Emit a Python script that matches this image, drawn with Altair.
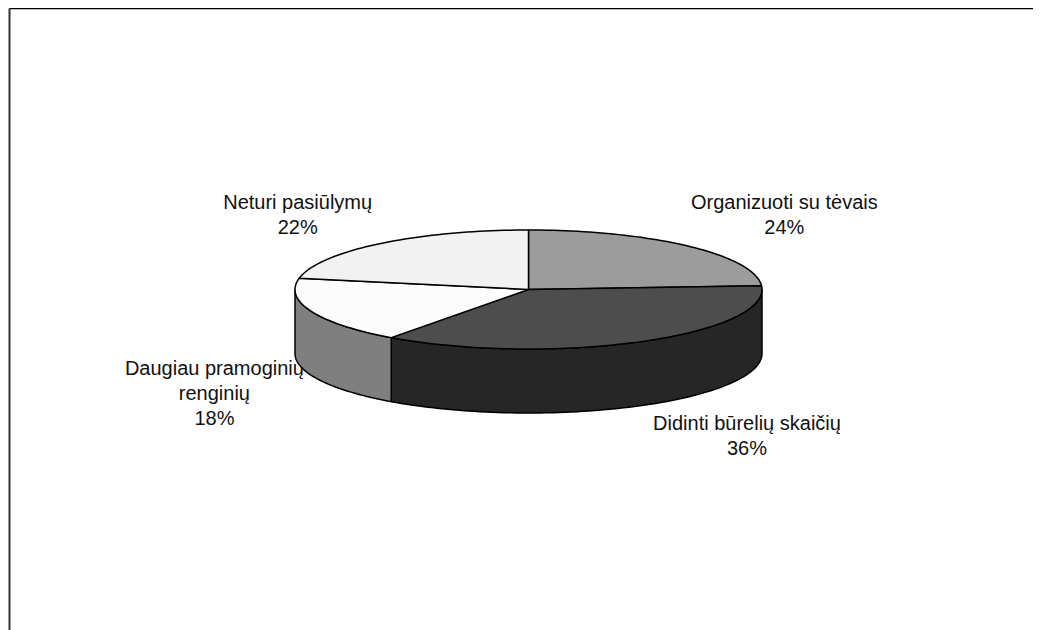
import math
import altair as alt
import pandas as pd

labels = ["Organizuoti su tėvais\n24%", "Didinti būrelių skaičių\n36%",
          "Daugiau pramoginių\nrenginių\n18%", "Neturi pasiūlymų\n22%"]
shares = [24, 36, 18, 22]
top_colors = ["#9c9c9c", "#4d4d4d", "#fcfcfc", "#f2f2f2"]
side_colors = ["#6e6e6e", "#262626", "#7f7f7f", "#a8a8a8"]
label_offsets = [(96, -43), (106, 82), (-97, 58), (-82, -41)]

W, H = 1024, 622
CX, CY, RX, RY, DEPTH = 519.5, 281.5, 233.5, 59.5, 64.0
depth_u = DEPTH / RY

xs = alt.Scale(domain=[-CX / RX, (W - CX) / RX], nice=False, zero=False)
ys = alt.Scale(domain=[-(H - CY) / RY, CY / RY], nice=False, zero=False)
x_axis = alt.Axis(orient="top", domain=True, domainColor="#000000", domainWidth=1.3,
                  ticks=False, labels=False, grid=False, title=None)
y_axis = alt.Axis(orient="left", domain=True, domainColor="#333333", domainWidth=2,
                  ticks=False, labels=False, grid=False, title=None)


def rim(a, drop=0.0):
    r = math.radians(a)
    return math.sin(r), math.cos(r) - drop


def arc_points(a0, a1, drop=0.0):
    n = max(2, int(abs(a1 - a0) / 1.5) + 1)
    return [rim(a0 + (a1 - a0) * k / (n - 1), drop) for k in range(n)]


def polygon(points, fill):
    rows = [{"x": p[0], "y": p[1], "i": k} for k, p in enumerate(points + points[:1])]
    return alt.Chart(pd.DataFrame(rows)).mark_line(
        fill=fill, stroke="#000000", strokeWidth=1.5, strokeJoin="round", clip=False
    ).encode(
        x=alt.X("x:Q", scale=xs, axis=x_axis),
        y=alt.Y("y:Q", scale=ys, axis=y_axis),
        order=alt.Order("i:Q"),
    )


starts, ends, c = [], [], 0
for s in shares:
    starts.append(c * 3.6)
    c += s
    ends.append(c * 3.6)

layers = []
# labels sit underneath the pie
for lab, a0, a1, (dx, dy) in zip(labels, starts, ends, label_offsets):
    px, py = rim((a0 + a1) / 2)
    layers.append(
        alt.Chart(pd.DataFrame({"x": [px], "y": [py], "t": [lab]})).mark_text(
            font="Liberation Sans", fontSize=20, color="#111111", align="center",
            baseline="middle", lineBreak="\n", lineHeight=25, dx=dx, dy=dy
        ).encode(
            x=alt.X("x:Q", scale=xs, axis=x_axis),
            y=alt.Y("y:Q", scale=ys, axis=y_axis),
            text="t:N",
        )
    )

# visible wall: the front half of the ellipse only
for a0, a1, col in zip(starts, ends, side_colors):
    lo, hi = max(a0, 90), min(a1, 270)
    if lo < hi:
        layers.append(polygon(arc_points(lo, hi) + arc_points(hi, lo, depth_u), col))

# top faces
for a0, a1, col in zip(starts, ends, top_colors):
    layers.append(polygon([(0.0, 0.0)] + arc_points(a0, a1), col))

chart = alt.layer(*layers).resolve_scale(x="shared", y="shared").properties(
    width=W, height=H,
    padding={"left": 1, "top": 0, "right": 0, "bottom": 0},
    autosize=alt.AutoSizeParams(type="none"),
).configure_view(stroke=None)

chart.save("out.html", embed_options={"renderer": "svg", "actions": False})
